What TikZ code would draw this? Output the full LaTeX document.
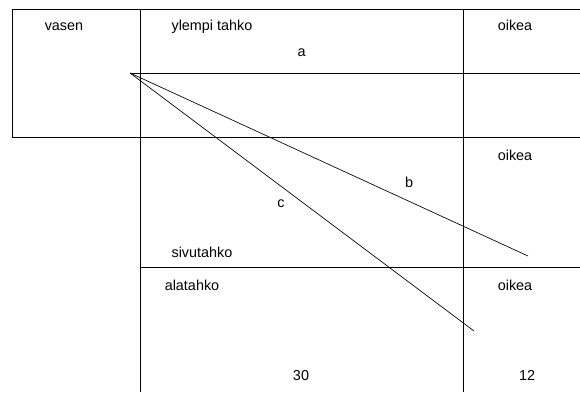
\documentclass[tikz,border=0pt]{standalone}
\usepackage{fontspec}
\setmainfont{Liberation Sans}

\begin{document}
\begin{tikzpicture}[
    x=0.75pt, y=-0.75pt,
    txt/.style={font=\fontsize{10.8}{13}\selectfont, anchor=base, inner sep=0pt},
    gridline/.style={line width=0.6pt},
    ray/.style={line width=0.5pt}
]
\useasboundingbox (0,0) rectangle (580,392);

% Ruudukko
\draw[gridline] (580,9) -- (12,9) -- (12,137) -- (580,137);
\draw[gridline] (140,9) -- (140,392);
\draw[gridline] (463,9) -- (463,392);
\draw[gridline] (140,267) -- (580,267);

% Säteet
\coordinate (apex) at (130,73);
\coordinate (a-end) at (580,73);
\coordinate (b-end) at (528,256);
\coordinate (c-end) at (474,331);
\draw[ray] (apex) -- (a-end);
\draw[ray] (apex) -- (b-end);
\draw[ray] (apex) -- (c-end);

% Tekstit
\node[txt] (vasen) at (64,30.5) {vasen};
\node[txt] (ylempi) at (212,30.5) {ylempi tahko};
\node[txt] (a) at (301.7,56.5) {a};
\node[txt] (oikea1) at (515,31) {oikea};
\node[txt] (oikea2) at (515,160.5) {oikea};
\node[txt] (b) at (409,187.5) {b};
\node[txt] (c) at (281,207) {c};
\node[txt] (sivu) at (202,257.5) {sivutahko};
\node[txt] (ala) at (192,290) {alatahko};
\node[txt] (oikea3) at (515,290) {oikea};
\node[txt] (kolmekymmenta) at (301,380.5) {30};
\node[txt] (kaksitoista) at (527,380.5) {12};

\end{tikzpicture}
\end{document}
